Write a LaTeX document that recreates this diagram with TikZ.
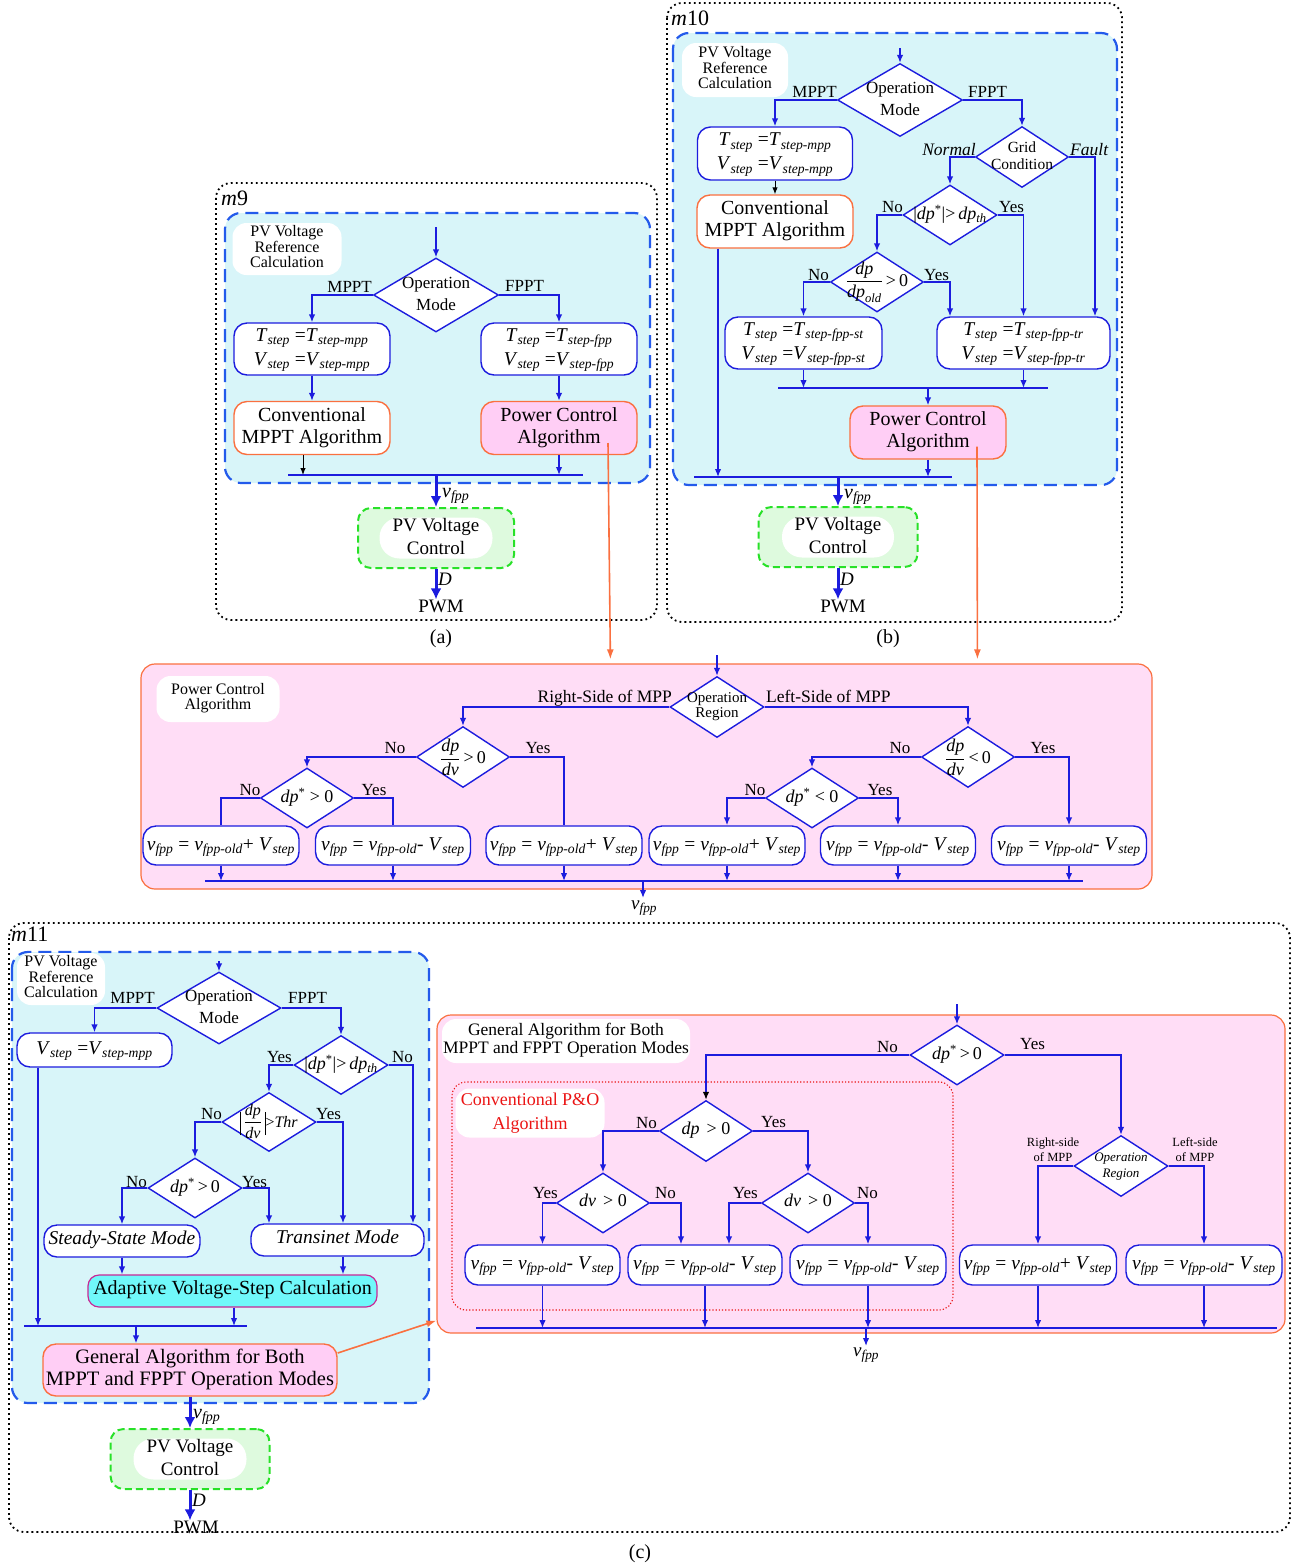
\documentclass[tikz,border=0pt]{standalone}
\usepackage{amsmath}
\usepackage{fontspec}
\setmainfont{Liberation Serif}
\usetikzlibrary{shapes.geometric,arrows.meta,calc}
\definecolor{lnblue}{RGB}{28,28,222}
\definecolor{dblue}{RGB}{35,90,235}
\definecolor{cyanbg}{RGB}{216,245,249}
\definecolor{pinkbg}{RGB}{255,221,246}
\definecolor{pinkbox}{RGB}{255,206,245}
\definecolor{orng}{RGB}{250,112,64}
\definecolor{grn}{RGB}{40,225,40}
\definecolor{grnbg}{RGB}{222,250,222}
\definecolor{adcyan}{RGB}{112,248,250}
\definecolor{admag}{RGB}{200,40,150}
\definecolor{redt}{RGB}{235,20,20}
\newcommand{\fsz}[2]{\fontsize{#1}{#2}\selectfont}
\newcommand{\dt}[1]{\makebox[0pt]{\smash{\raisebox{-0.25em}{\begin{tabular}{@{}c@{}}#1\end{tabular}}}}}
\newcommand{\tv}[2]{\textit{#1}\textsubscript{\textit{#2}}}
\newcommand{\dps}{\textit{dp}\textsuperscript{*}}
\newcommand{\absbar}{{\vrule width 0.8pt height 15pt depth 8pt}}
\tikzset{
 ln/.style={draw=lnblue, line width=1.4pt},
 arr/.style={ln, -{Latex[length=8pt,width=6.5pt]}},
 arrk/.style={ln, -{Latex[length=8pt,width=6.5pt,color=black]}},
 blkarr/.style={draw=black, line width=1pt, -{Latex[length=7pt,width=5.5pt]}},
 bigarr/.style={draw=lnblue, line width=3pt, -{Latex[length=11pt,width=11pt]}},
 dia/.style={diamond, draw=lnblue, fill=white, line width=1.4pt, inner sep=0pt, font=\fsz{17}{22}},
 vbox/.style={rectangle, rounded corners=13pt, draw=lnblue, fill=white, line width=1.4pt, inner sep=0pt, font=\fsz{19.5}{24}},
 obox/.style={rectangle, rounded corners=13pt, draw=orng, fill=white, line width=1.4pt, inner sep=0pt, font=\fsz{20}{22}},
 pbox/.style={obox, fill=pinkbox},
 outerpanel/.style={draw=black, line width=1.8pt, dash pattern=on 1.8pt off 3.2pt, rounded corners=15pt},
 bluepanel/.style={draw=dblue, line width=2.2pt, dash pattern=on 13pt off 7pt, fill=cyanbg, rounded corners=16pt},
 greenpanel/.style={draw=grn, line width=2pt, dash pattern=on 7pt off 4pt, fill=grnbg, rounded corners=13pt, inner sep=0pt},
 pill/.style={fill=white, rounded corners=20pt, inner sep=0pt, font=\fsz{19}{23}},
 tagbox/.style={fill=white, rounded corners=14pt, inner sep=0pt, font=\fsz{16}{15}},
 lbl/.style={inner sep=0pt, font=\fsz{17}{18}},
 pinkpanel/.style={draw=orng, line width=1.2pt, fill=pinkbg, rounded corners=14pt, inner sep=0pt},
 orarr/.style={draw=orng, line width=1.6pt, -{Latex[length=10pt,width=7pt]}},
 plain/.style={inner sep=0pt},
}
\begin{document}
\begin{tikzpicture}[x=1pt,y=-1pt]
\useasboundingbox (0,0) rectangle (1294,1564);

%%%%%%%%%%%%%%%% (a) m9
\draw[outerpanel] (216,183) rectangle (657,620);
\node[plain, anchor=base west, font=\fsz{22}{22}] (t9) at (221,205) {\textit{m}9};
\draw[bluepanel] (225,213) rectangle (650,483);
\node[tagbox, minimum width=109pt, minimum height=52pt] (g9) at (287,249) {\dt{PV Voltage\\Reference\\Calculation}};
\coordinate (s9) at (436,227);
\node[dia, minimum width=125pt, minimum height=74pt] (om9) at (436,295) {\dt{Operation\\Mode}};
\node[lbl, anchor=base east] (lm9) at (372,292) {MPPT};
\node[lbl, anchor=base west] (lf9) at (505,291) {FPPT};
\node[vbox, minimum width=156pt, minimum height=52pt] (mpp9) at (312,349) {\dt{\tv{T}{step} =\tv{T}{step-mpp}\\\tv{V}{step} =\tv{V}{step-mpp}}};
\node[vbox, minimum width=156pt, minimum height=52pt] (fpp9) at (559,349) {\dt{\tv{T}{step} =\tv{T}{step-fpp}\\\tv{V}{step} =\tv{V}{step-fpp}}};
\node[obox, minimum width=156pt, minimum height=53pt] (cv9) at (312,428) {\dt{Conventional\\MPPT Algorithm}};
\node[pbox, minimum width=156pt, minimum height=53pt] (pc9) at (559,428) {\dt{Power Control\\Algorithm}};
\draw[arr] (s9) -- (om9.north);
\draw[arr] (om9.west) -| (mpp9.north);
\draw[arr] (om9.east) -| (fpp9.north);
\draw[arr] (mpp9) -- (cv9);
\draw[arr] (fpp9) -- (pc9);
\coordinate (b9l) at (288,475); \coordinate (b9r) at (583,475);
\draw[ln] (b9l) -- (b9r);
\draw[blkarr] ([xshift=-9pt]cv9.south) -- ([xshift=-9pt]cv9.south |- b9l);
\draw[arr] (pc9.south) -- (pc9.south |- b9l);
\node[greenpanel, minimum width=156pt, minimum height=60pt] (gp9) at (436,538) {};
\node[pill, minimum width=113pt, minimum height=41pt] (pv9) at (436,538) {\dt{PV Voltage\\Control}};
\draw[bigarr] (om9.south |- b9l) -- (gp9.north);
\node[plain, anchor=base west, font=\fsz{20}{20}] (v9) at (442,497) {\tv{v}{fpp}};
\node[plain, anchor=base, font=\fsz{19}{19}] (pw9) at (441,612) {PWM};
\draw[bigarr] (gp9.south) -- (gp9.south |- pw9.north);
\node[plain, anchor=base west, font=\fsz{19}{19}] (d9) at (438,585) {\textit{D}};
\node[plain, anchor=base, font=\fsz{20}{20}] (ca) at (441,643) {(a)};

%%%%%%%%%%%%%%%% (b) m10
\draw[outerpanel] (667,3) rectangle (1122,622);
\node[plain, anchor=base west, font=\fsz{22}{22}] (t10) at (671,25) {\textit{m}10};
\draw[bluepanel] (673,33) rectangle (1117,485);
\node[tagbox, minimum width=106pt, minimum height=54pt] (g10) at (735,70) {\dt{PV Voltage\\Reference\\Calculation}};
\coordinate (s10) at (900,48);
\node[dia, minimum width=125pt, minimum height=73pt] (om10) at (900,100) {\dt{Operation\\Mode}};
\node[lbl, anchor=base east] (lm10) at (837,97) {MPPT};
\node[lbl, anchor=base west] (lf10) at (968,97) {FPPT};
\node[vbox, minimum width=155pt, minimum height=53pt] (mpp10) at (775,153.5) {\dt{\tv{T}{step} =\tv{T}{step-mpp}\\\tv{V}{step} =\tv{V}{step-mpp}}};
\node[obox, minimum width=156pt, minimum height=53pt] (cv10) at (775,221.5) {\dt{Conventional\\MPPT Algorithm}};
\node[dia, minimum width=93pt, minimum height=61pt, font=\fsz{15.5}{17}] (gc10) at (1022,157) {\dt{Grid\\Condition}};
\node[lbl, anchor=base east, font=\fsz{17.5}{18}\itshape] (ln10) at (976,155) {Normal};
\node[lbl, anchor=base west, font=\fsz{17.5}{18}\itshape] (lfa10) at (1070,155) {Fault};
\node[dia, minimum width=94pt, minimum height=60pt, font=\fsz{18}{18}] (dt10) at (950,215) {\dt{|\dps|>\,\tv{dp}{th}}};
\node[lbl, anchor=base east] (ln10a) at (903,212) {No};
\node[lbl, anchor=base west] (ly10a) at (999,212) {Yes};
\node[dia, minimum width=93pt, minimum height=60pt, font=\fsz{18}{18}] (do10) at (877,282) {\dt{$\dfrac{\textit{dp}}{\textit{dp}_{\textit{old}}}$\,>\,0}};
\node[lbl, anchor=base east] (ln10b) at (829,280) {No};
\node[lbl, anchor=base west] (ly10b) at (924,280) {Yes};
\node[vbox, minimum width=157pt, minimum height=52pt] (st10) at (803.5,343) {\dt{\tv{T}{step} =\tv{T}{step-fpp-st}\\\tv{V}{step} =\tv{V}{step-fpp-st}}};
\node[vbox, minimum width=173pt, minimum height=52pt] (tr10) at (1023.5,343) {\dt{\tv{T}{step} =\tv{T}{step-fpp-tr}\\\tv{V}{step} =\tv{V}{step-fpp-tr}}};
\draw[arr] (s10) -- (om10.north);
\draw[arr] (om10.west) -| (mpp10.north);
\draw[arr] (om10.east) -| (gc10.north);
\draw[blkarr] (mpp10.south) -- (cv10.north);
\draw[arr] (gc10.west) -| (dt10.north);
\draw[arr] (gc10.east) -| ([xshift=71.5pt]tr10.north);
\draw[arr] (dt10.west) -| (do10.north);
\draw[arr] (dt10.east) -| (tr10.north);
\draw[arr] (do10.west) -| (st10.north);
\draw[arr] (do10.east) -| ([xshift=-73.5pt]tr10.north);
\coordinate (b10al) at (778,388); \coordinate (b10ar) at (1048,388);
\draw[ln] (b10al) -- (b10ar);
\draw[arr] (st10.south) -- (st10.south |- b10al);
\draw[arr] (tr10.south) -- (tr10.south |- b10al);
\node[pbox, minimum width=156pt, minimum height=53pt] (pc10) at (928,432.5) {\dt{Power Control\\Algorithm}};
\draw[arr] (pc10.north |- b10al) -- (pc10.north);
\coordinate (b10bl) at (694,477); \coordinate (b10br) at (952,477);
\draw[ln] (b10bl) -- (b10br);
\draw[arr] ([xshift=-57pt]cv10.south) -- ([xshift=-57pt]cv10.south |- b10bl);
\draw[arr] (pc10.south) -- (pc10.south |- b10bl);
\node[greenpanel, minimum width=159pt, minimum height=60pt] (gp10) at (838,537) {};
\node[pill, minimum width=112pt, minimum height=41pt] (pv10) at (838,537) {\dt{PV Voltage\\Control}};
\draw[bigarr] (gp10.north |- b10bl) -- (gp10.north);
\node[plain, anchor=base west, font=\fsz{20}{20}] (v10) at (844,498) {\tv{v}{fpp}};
\node[plain, anchor=base, font=\fsz{19}{19}] (pw10) at (843,612) {PWM};
\draw[bigarr] (gp10.south) -- (gp10.south |- pw10.north);
\node[plain, anchor=base west, font=\fsz{19}{19}] (d10) at (840,585) {\textit{D}};
\node[plain, anchor=base, font=\fsz{20}{20}] (cb) at (888,643) {(b)};

%%%%%%%%%%%%%%%% Power Control Algorithm
\node[pinkpanel, minimum width=1011pt, minimum height=225pt] (pcb) at (646.5,776.5) {};
\node[tagbox, minimum width=123pt, minimum height=46pt] (g2) at (218,699) {\dt{Power Control\\Algorithm}};
\coordinate (s2) at (717,655);
\node[dia, minimum width=94pt, minimum height=61pt, font=\fsz{15}{15}] (or2) at (717,707) {\dt{Operation\\Region}};
\node[lbl, anchor=base east, font=\fsz{17.5}{18}] (lr2) at (672,702) {Right-Side of MPP};
\node[lbl, anchor=base west, font=\fsz{17.5}{18}] (ll2) at (766,702) {Left-Side of MPP};
\node[dia, minimum width=93pt, minimum height=61pt, font=\fsz{18}{18}] (dvp) at (463,757) {\dt{$\dfrac{\textit{dp}}{\textit{dv}}$\,>\,0}};
\node[dia, minimum width=93pt, minimum height=61pt, font=\fsz{18}{18}] (dvn) at (968,757) {\dt{$\dfrac{\textit{dp}}{\textit{dv}}$\,<\,0}};
\node[dia, minimum width=93pt, minimum height=60pt, font=\fsz{18}{18}] (dsp) at (307,798) {\dt{\dps\ > 0}};
\node[dia, minimum width=93pt, minimum height=60pt, font=\fsz{18}{18}] (dsn) at (812,798) {\dt{\dps\ < 0}};
\node[lbl, anchor=base] (n1) at (395,753) {No};
\node[lbl, anchor=base] (y1) at (538,753) {Yes};
\node[lbl, anchor=base] (n2) at (250,795) {No};
\node[lbl, anchor=base] (y2) at (374,795) {Yes};
\node[lbl, anchor=base] (n3) at (900,753) {No};
\node[lbl, anchor=base] (y3) at (1043,753) {Yes};
\node[lbl, anchor=base] (n4) at (755,795) {No};
\node[lbl, anchor=base] (y4) at (880,795) {Yes};
\node[vbox, minimum width=156pt, minimum height=39pt] (q1) at (221,845.5) {\dt{\tv{v}{fpp} = \tv{v}{fpp-old}+ \tv{V}{step}}};
\node[vbox, minimum width=155pt, minimum height=39pt] (q2) at (393,845.5) {\dt{\tv{v}{fpp} = \tv{v}{fpp-old}- \tv{V}{step}}};
\node[vbox, minimum width=156pt, minimum height=39pt] (q3) at (564,845.5) {\dt{\tv{v}{fpp} = \tv{v}{fpp-old}+ \tv{V}{step}}};
\node[vbox, minimum width=156pt, minimum height=39pt] (q4) at (727,845.5) {\dt{\tv{v}{fpp} = \tv{v}{fpp-old}+ \tv{V}{step}}};
\node[vbox, minimum width=155pt, minimum height=39pt] (q5) at (898,845.5) {\dt{\tv{v}{fpp} = \tv{v}{fpp-old}- \tv{V}{step}}};
\node[vbox, minimum width=155pt, minimum height=39pt] (q6) at (1069,845.5) {\dt{\tv{v}{fpp} = \tv{v}{fpp-old}- \tv{V}{step}}};
\draw[arr] (s2) -- (or2.north);
\draw[arr] (or2.west) -| (dvp.north);
\draw[arr] (or2.east) -| (dvn.north);
\draw[arr] (dvp.west) -| (dsp.north);
\draw[ln] (dvp.east) -| (q3.north);
\draw[ln] (dsp.west) -| (q1.north);
\draw[ln] (dsp.east) -| (q2.north);
\draw[arr] (dvn.west) -| (dsn.north);
\draw[arr] (dvn.east) -| (q6.north);
\draw[arr] (dsn.west) -| (q4.north);
\draw[arr] (dsn.east) -| (q5.north);
\coordinate (b2l) at (205,881); \coordinate (b2r) at (1083,881);
\draw[ln] (b2l) -- (b2r);
\foreach \q in {q1,q2,q3,q4,q5,q6} \draw[arr] (\q.south) -- (\q.south |- b2l);
\coordinate (o2a) at (643,881); \coordinate (o2b) at (643,898);
\draw[arr] (o2a) -- (o2b);
\node[plain, anchor=base west, font=\fsz{19}{19}] (v2) at (631,909) {\tv{v}{fpp}};

%%%%%%%%%%%%%%%% (c) m11
\draw[outerpanel] (9,923) rectangle (1290,1532);
\node[plain, anchor=base west, font=\fsz{22}{22}] (t11) at (11,941) {\textit{m}11};
\draw[bluepanel] (12,952) rectangle (429,1403);
\node[tagbox, minimum width=88pt, minimum height=52pt] (g11) at (61,979) {\dt{PV Voltage\\Reference\\Calculation}};
\coordinate (s11) at (219,961);
\node[dia, minimum width=124pt, minimum height=72pt] (om11) at (219,1008) {\dt{Operation\\Mode}};
\node[lbl, anchor=base east] (lm11) at (155,1003) {MPPT};
\node[lbl, anchor=base west] (lf11) at (288,1003) {FPPT};
\node[vbox, minimum width=155pt, minimum height=34pt] (vsm) at (94.5,1050) {\dt{\tv{V}{step} =\tv{V}{step-mpp}}};
\node[dia, minimum width=94pt, minimum height=59pt, font=\fsz{18}{18}] (dt11) at (341,1065) {\dt{|\dps|>\,\tv{dp}{th}}};
\node[lbl, anchor=base east] (ly11a) at (292,1062) {Yes};
\node[lbl, anchor=base west] (ln11a) at (392,1062) {No};
\node[dia, minimum width=94pt, minimum height=59pt, font=\fsz{16}{16}] (th11) at (269,1122) {\dt{\absbar\,$\dfrac{\textit{dp}}{\textit{dv}}$\,\absbar>\textit{Thr}}};
\node[lbl, anchor=base east] (ln11b) at (222,1119) {No};
\node[lbl, anchor=base west] (ly11b) at (316,1119) {Yes};
\node[dia, minimum width=94pt, minimum height=60pt, font=\fsz{18}{18}] (ds11) at (195,1188) {\dt{\dps\,>\,0}};
\node[lbl, anchor=base east] (ln11c) at (147,1187) {No};
\node[lbl, anchor=base west] (ly11c) at (242,1187) {Yes};
\node[vbox, minimum width=156pt, minimum height=32pt, font=\fsz{19.5}{20}\itshape] (sm11) at (122,1241) {\dt{Steady-State Mode}};
\node[vbox, minimum width=173pt, minimum height=32pt, font=\fsz{19.5}{20}\itshape] (tm11) at (337.5,1240) {\dt{Transinet Mode}};
\node[rectangle, rounded corners=11pt, draw=admag, fill=adcyan, line width=1.2pt, inner sep=0pt, minimum width=289pt, minimum height=32pt, font=\fsz{20}{20}] (ad11) at (232.5,1291) {\dt{Adaptive Voltage-Step Calculation}};
\draw[arr] (s11) -- (om11.north);
\draw[arr] (om11.west) -| (vsm.north);
\draw[arr] (om11.east) -| (dt11.north);
\draw[arr] (dt11.west) -| (th11.north);
\draw[arr] (dt11.east) -| ([xshift=75.5pt]tm11.north);
\draw[arr] (th11.west) -| (ds11.north);
\draw[arr] (th11.east) -| ([xshift=5.5pt]tm11.north);
\draw[arr] (ds11.west) -| (sm11.north);
\draw[arr] (ds11.east) -| ([xshift=-68.5pt]tm11.north);
\draw[arr] (sm11.south) -- (sm11.south |- ad11.north);
\draw[arr] ([xshift=5.5pt]tm11.south) -- ([xshift=5.5pt]tm11.south |- ad11.north);
\coordinate (b11l) at (24,1326); \coordinate (b11r) at (247,1326);
\draw[ln] (b11l) -- (b11r);
\draw[arr] ([xshift=-56.5pt]vsm.south) -- ([xshift=-56.5pt]vsm.south |- b11l);
\draw[arr] ([xshift=1.5pt]ad11.south) -- ([xshift=1.5pt]ad11.south |- b11l);
\node[pbox, minimum width=294pt, minimum height=52pt, font=\fsz{20.5}{22}] (ge11) at (190,1370) {\dt{General Algorithm for Both\\MPPT and FPPT Operation Modes}};
\draw[arr] ([xshift=-54pt]ge11.north |- b11l) -- ([xshift=-54pt]ge11.north);
\node[greenpanel, minimum width=159pt, minimum height=60pt] (gp11) at (190,1459) {};
\node[pill, minimum width=113pt, minimum height=41pt] (pv11) at (190,1459) {\dt{PV Voltage\\Control}};
\draw[bigarr] (ge11.south) -- (gp11.north);
\node[plain, anchor=base west, font=\fsz{20}{20}] (v11) at (193,1418) {\tv{v}{fpp}};
\node[plain, anchor=base, font=\fsz{19}{19}] (pw11) at (196,1533) {PWM};
\draw[bigarr] (gp11.south) -- (gp11.south |- pw11.north);
\node[plain, anchor=base west, font=\fsz{19}{19}] (d11) at (192,1506) {\textit{D}};
\node[plain, anchor=base, font=\fsz{20}{20}] (cc) at (640,1558) {(c)};

%%%%%%%%%%%%%%%% General algorithm panel
\node[pinkpanel, minimum width=848pt, minimum height=318pt] (gab) at (861,1174) {};
\node[tagbox, minimum width=248pt, minimum height=44pt, font=\fsz{17.5}{18}] (g3) at (566,1041) {\dt{General Algorithm for Both\\MPPT and FPPT Operation Modes}};
\node[draw=redt, line width=1.1pt, dash pattern=on 1.2pt off 2pt, rounded corners=14pt, inner sep=0pt, minimum width=501pt, minimum height=228pt] (pob) at (702.5,1196) {};
\node[tagbox, minimum width=149pt, minimum height=49pt, font=\fsz{18}{24}, text=redt] (g4) at (530,1113) {\dt{Conventional P\&O\\Algorithm}};
\coordinate (s4) at (957,1004);
\node[dia, minimum width=94pt, minimum height=60pt, font=\fsz{18}{18}] (dsg) at (957,1055) {\dt{\dps\,>\,0}};
\node[lbl, anchor=base east] (n5) at (898,1052) {No};
\node[lbl, anchor=base west] (y5) at (1020,1049) {Yes};
\node[dia, minimum width=93pt, minimum height=61pt, font=\fsz{18}{18}] (dpg) at (706,1131) {\dt{\textit{dp}\hspace{7pt}> 0}};
\node[lbl, anchor=base east] (n6) at (657,1128) {No};
\node[lbl, anchor=base west] (y6) at (761,1127) {Yes};
\node[dia, minimum width=93pt, minimum height=60pt, font=\fsz{18}{18}] (dv1) at (603,1203) {\dt{\textit{dv}\hspace{7pt}> 0}};
\node[dia, minimum width=93pt, minimum height=60pt, font=\fsz{18}{18}] (dv2) at (808,1203) {\dt{\textit{dv}\hspace{7pt}> 0}};
\node[lbl, anchor=base east] (y7) at (558,1198) {Yes};
\node[lbl, anchor=base west] (n7) at (655,1198) {No};
\node[lbl, anchor=base east] (y8) at (758,1198) {Yes};
\node[lbl, anchor=base west] (n8) at (857,1198) {No};
\node[dia, minimum width=94pt, minimum height=61pt, font=\fsz{13}{16}\itshape] (og) at (1121,1166) {\dt{Operation\\Region}};
\node[plain, align=center, font=\fsz{12.5}{15}] (rs) at (1053,1150) {Right-side\\of MPP};
\node[plain, align=center, font=\fsz{12.5}{15}] (ls) at (1195,1150) {Left-side\\of MPP};
\node[vbox, minimum width=155pt, minimum height=40pt] (ra) at (542.5,1265) {\dt{\tv{v}{fpp} = \tv{v}{fpp-old}- \tv{V}{step}}};
\node[vbox, minimum width=154pt, minimum height=40pt] (rb) at (705,1265) {\dt{\tv{v}{fpp} = \tv{v}{fpp-old}- \tv{V}{step}}};
\node[vbox, minimum width=156pt, minimum height=40pt] (rc) at (868,1265) {\dt{\tv{v}{fpp} = \tv{v}{fpp-old}- \tv{V}{step}}};
\node[vbox, minimum width=157pt, minimum height=40pt] (rd) at (1038,1265) {\dt{\tv{v}{fpp} = \tv{v}{fpp-old}+ \tv{V}{step}}};
\node[vbox, minimum width=156pt, minimum height=40pt] (re) at (1204,1265) {\dt{\tv{v}{fpp} = \tv{v}{fpp-old}- \tv{V}{step}}};
\draw[arr] (s4) -- (dsg.north);
\draw[arrk] (dsg.west) -| (dpg.north);
\draw[arr] (dsg.east) -| (og.north);
\draw[arr] (og.west) -| (rd.north);
\draw[arr] (og.east) -| (re.north);
\draw[arr] (dpg.west) -| (dv1.north);
\draw[arr] (dpg.east) -| (dv2.north);
\draw[arr] (dv1.west) -| (ra.north);
\draw[arr] (dv1.east) -| ([xshift=-24pt]rb.north);
\draw[arr] (dv2.west) -| ([xshift=24pt]rb.north);
\draw[arr] (dv2.east) -| (rc.north);
\coordinate (b4l) at (476,1328); \coordinate (b4r) at (1277,1328);
\draw[ln] (b4l) -- (b4r);
\foreach \q in {ra,rb,rc,rd,re} \draw[arr] (\q.south) -- (\q.south |- b4l);
\coordinate (o4a) at (866,1328); \coordinate (o4b) at (866,1346);
\draw[arr] (o4a) -- (o4b);
\node[plain, anchor=base west, font=\fsz{19}{19}] (v4) at (853,1356) {\tv{v}{fpp}};

%%%%%%%%%%%%%%%% orange links
\draw[orarr] ([xshift=49pt,yshift=-15pt]pc9.center) -- ($(pcb.north west)+(470,-4)$);
\draw[orarr] ([xshift=49pt,yshift=-14pt]pc10.center) -- ($(pcb.north west)+(837,-4)$);
\draw[orarr] ([yshift=17pt]ge11.east) -- ([yshift=13pt]gab.south west);
\end{tikzpicture}
\end{document}
